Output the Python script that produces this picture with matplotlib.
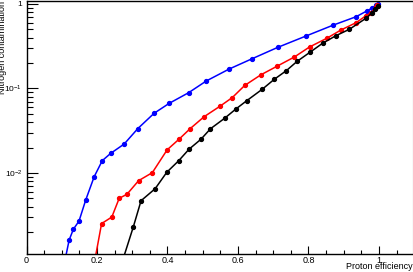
import numpy as np
import matplotlib
matplotlib.use('Agg')
import matplotlib.pyplot as plt
from matplotlib.ticker import FixedLocator, FixedFormatter, MultipleLocator, NullFormatter

plt.rcParams['font.family'] = ['Liberation Sans', 'DejaVu Sans']
plt.rcParams['mathtext.fontset'] = 'custom'
plt.rcParams['mathtext.rm'] = 'Liberation Sans'
plt.rcParams['mathtext.it'] = 'Liberation Sans'

# proton efficiency vs nitrogen contamination, three selections
eff_blue = [0.106, 0.121, 0.133, 0.149, 0.168, 0.192, 0.215, 0.239, 0.277, 0.316, 0.362,
            0.405, 0.460, 0.510, 0.575, 0.639, 0.713, 0.793, 0.869, 0.935, 0.967,
            0.979, 0.991, 0.998]
cont_blue = [8.0e-4, 1.61e-3, 2.16e-3, 2.70e-3, 4.79e-3, 9.04e-3, 0.0140, 0.0171, 0.0220,
             0.0336, 0.0509, 0.0668, 0.0892, 0.1227, 0.170, 0.224, 0.307, 0.418, 0.560,
             0.707, 0.833, 0.889, 0.960, 1.0]

eff_red = [0.191, 0.213, 0.242, 0.263, 0.285, 0.318, 0.357, 0.399, 0.434, 0.464, 0.504,
           0.549, 0.584, 0.619, 0.665, 0.712, 0.760, 0.803, 0.852, 0.892, 0.935,
           0.962, 0.977, 0.992, 0.995]
cont_red = [8.0e-4, 2.52e-3, 3.01e-3, 5.02e-3, 5.60e-3, 8.11e-3, 0.0101, 0.0188, 0.0254,
            0.0334, 0.0464, 0.0617, 0.0782, 0.1086, 0.1452, 0.1846, 0.236, 0.310, 0.393,
            0.492, 0.601, 0.721, 0.789, 0.914, 0.973]

eff_black = [0.270, 0.303, 0.325, 0.365, 0.398, 0.432, 0.461, 0.495, 0.522, 0.562, 0.594,
             0.625, 0.669, 0.703, 0.737, 0.768, 0.804, 0.840, 0.878, 0.916, 0.963,
             0.979, 0.989, 0.997]
cont_black = [8.5e-4, 2.30e-3, 4.70e-3, 6.52e-3, 0.0102, 0.0140, 0.0191, 0.0251, 0.0334,
              0.0444, 0.0572, 0.0718, 0.0981, 0.1285, 0.1624, 0.210, 0.268, 0.343, 0.422,
              0.502, 0.677, 0.776, 0.865, 0.947]

fig = plt.figure(figsize=(4.14, 2.72), dpi=100)
ax = fig.add_axes([26.5 / 414, 18 / 272, (413 - 26.5) / 414, 253 / 272])

for x, y, c in [(eff_blue, cont_blue, '#0000ff'),
                (eff_red, cont_red, '#ff0000'),
                (eff_black, cont_black, '#000000')]:
    ax.plot(x, y, color=c, lw=1.1, marker='o', ms=2.8, mec=c, mfc=c)

ax.set_yscale('log')
ax.set_xlim(0, 1.0965)
ax.set_ylim(1.10e-3, 1.085)

ax.xaxis.set_major_locator(FixedLocator([0, 0.2, 0.4, 0.6, 0.8, 1.0]))
ax.xaxis.set_major_formatter(FixedFormatter(['0', '0.2', '0.4', '0.6', '0.8', '1']))
ax.xaxis.set_minor_locator(MultipleLocator(0.05))

ax.yaxis.set_major_locator(FixedLocator([1e-2, 1e-1, 1]))
ax.yaxis.set_major_formatter(FixedFormatter(['10$^{-2}$', '10$^{-1}$', '1']))
minors = [m * 10.0 ** e for e in (-3, -2, -1) for m in range(2, 10)]
ax.yaxis.set_minor_locator(FixedLocator(minors))
ax.yaxis.set_minor_formatter(NullFormatter())

ax.tick_params(axis='x', which='major', direction='in', length=6, width=0.8,
               labelsize=6.5, pad=1.2, top=False)
ax.tick_params(axis='x', which='minor', direction='in', length=3, width=0.8, top=False)
ax.tick_params(axis='y', which='major', direction='in', length=8, width=0.8,
               labelsize=6, pad=3, right=False)
ax.tick_params(axis='y', which='minor', direction='in', length=4, width=0.8, right=False)

for s in ['left', 'bottom', 'top']:
    ax.spines[s].set_linewidth(1.0)
ax.spines['right'].set_color('#888888')

fig.text(413 / 414, 1 / 272, 'Proton efficiency', ha='right', va='bottom', fontsize=6.5)
fig.text(3 / 414, 0.997, 'Nitrogen contamination', ha='center', va='top',
         rotation=90, fontsize=6.5)

fig.savefig('out.png', dpi=100)
